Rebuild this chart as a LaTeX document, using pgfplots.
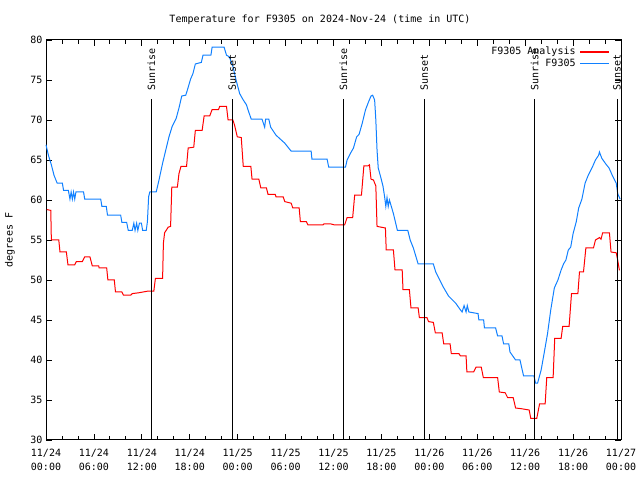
\documentclass[border=0pt]{standalone}
\usepackage{fontspec}
\setmainfont{DejaVu Sans Mono}
\usepackage{pgfplots}
\pgfplotsset{compat=1.18}
\definecolor{obsblue}{RGB}{16,128,255}
\newcommand\gfont{\fontsize{10bp}{13bp}\selectfont}
\begin{document}
\begin{tikzpicture}[x=1bp,y=1bp]
\useasboundingbox (0,0) rectangle (640,480);
\node[font=\gfont] at (320,460) {Temperature for F9305 on 2024-Nov-24 (time in UTC)};
\node[font=\gfont, rotate=90] at (10,240) {degrees F};
\begin{axis}[
    at={(46bp,40bp)}, anchor=south west,
    width=575bp, height=400bp, scale only axis,
    xmin=0, xmax=72, ymin=30, ymax=80,
    xtick={0,6,...,72}, minor x tick num=2,
    ytick={30,35,...,80},
    xticklabels={11/24\\00:00,11/24\\06:00,11/24\\12:00,11/24\\18:00,
                 11/25\\00:00,11/25\\06:00,11/25\\12:00,11/25\\18:00,
                 11/26\\00:00,11/26\\06:00,11/26\\12:00,11/26\\18:00,
                 11/27\\00:00},
    xticklabel style={align=center, font=\fontsize{10bp}{14bp}\selectfont, yshift=-6bp},
    yticklabel style={font=\gfont},
    /pgf/number format/assume math mode=true,
    tick align=inside,
    major tick length=6bp, minor tick length=4bp,
    every tick/.style={black, line width=0.8bp},
    axis line style={line width=1bp},
    clip=false,
    legend style={draw=none, fill=none, at={(1,1)}, anchor=north east,
        xshift=-10bp, yshift=-7bp, font=\gfont, inner sep=0pt,
        row sep=2.5bp, nodes={inner sep=0pt}},
]
% F9305 Analysis
\addplot[red, line width=1bp, sharp plot,
  legend image code/.code={%
    \node[anchor=east, inner sep=0pt, font=\gfont, text=black] at (-4bp,0bp) {F9305 Analysis};
    \draw[red, line width=1.5bp] (0bp,0bp) -- (29bp,0bp);}] coordinates {
(0.1,58.8)(0.6,58.7)(0.67,55.0)(1.6,55.0)(1.75,53.5)(2.55,53.5)(2.75,51.9)(3.6,51.9)
(3.8,52.3)(4.55,52.3)(4.85,52.9)(5.5,52.9)(5.8,51.75)(6.6,51.75)(6.65,51.5)(7.6,51.5)
(7.75,50.0)(8.55,50.0)(8.7,48.5)(9.5,48.5)(9.7,48.1)(10.6,48.1)(10.8,48.3)(11.6,48.4)
(12.7,48.6)(13.5,48.6)(13.7,50.2)(14.6,50.2)(14.7,54.6)(14.85,55.9)(15.3,56.6)(15.6,56.7)
(15.75,61.6)(16.45,61.6)(16.65,63.3)(16.9,64.2)(17.6,64.2)(17.8,66.5)(18.5,66.6)(18.7,68.7)
(19.55,68.7)(19.8,70.5)(20.5,70.5)(20.8,71.3)(21.6,71.3)(21.75,71.7)(22.6,71.7)(22.8,70.0)
(23.4,70.0)(23.6,69.4)(23.95,67.9)(24.45,67.8)(24.7,64.2)(25.65,64.2)(25.8,62.6)(26.65,62.6)
(26.9,61.5)(27.6,61.5)(27.8,60.7)(28.7,60.7)(28.8,60.4)(29.7,60.4)(29.9,59.8)(30.7,59.6)
(30.9,59.0)(31.7,59.0)(31.85,57.3)(32.6,57.3)(32.8,56.9)(34.7,56.9)(34.8,57.0)(35.7,57.0)
(36.06,56.9)(37.4,56.9)(37.7,57.8)(38.4,57.8)(38.65,60.6)(39.5,60.6)(39.8,64.25)(40.3,64.25)
(40.5,64.4)(40.7,62.6)(41.0,62.5)(41.3,61.75)(41.45,56.7)(42.5,56.5)(42.6,53.75)(43.5,53.75)
(43.7,51.25)(44.6,51.25)(44.7,48.8)(45.5,48.8)(45.7,46.5)(46.6,46.5)(46.75,45.3)(47.7,45.3)
(47.9,44.8)(48.5,44.7)(48.75,43.4)(49.6,43.4)(49.8,42.0)(50.6,42.0)(50.75,40.8)(51.7,40.8)
(51.9,40.5)(52.6,40.5)(52.7,38.5)(53.55,38.5)(53.84,39.1)(54.5,39.1)(54.76,37.8)(56.55,37.8)
(56.76,36.0)(57.5,35.9)(57.8,35.3)(58.5,35.3)(58.8,34.0)(59.6,33.9)(60.5,33.75)(60.7,32.7)
(61.45,32.7)(61.8,34.5)(62.5,34.5)(62.7,37.8)(63.5,37.8)(63.7,42.7)(64.5,42.7)(64.7,44.2)
(65.5,44.2)(65.8,48.3)(66.6,48.3)(66.8,51.0)(67.3,51.0)(67.6,54.0)(68.55,54.0)(68.8,55.0)
(69.3,55.3)(69.5,55.1)(69.7,55.9)(70.55,55.9)(70.75,53.5)(71.4,53.4)(71.6,52.4)(71.8,51.2)
};
\addlegendentry{}
% F9305
\addplot[obsblue, line width=1bp, sharp plot,
  legend image code/.code={%
    \node[anchor=east, inner sep=0pt, font=\gfont, text=black] at (-4bp,0bp) {F9305};
    \draw[obsblue, line width=1.5bp] (0bp,0bp) -- (29bp,0bp);}] coordinates {
(0,66.9)(0.3,65.6)(0.67,64.4)(1.0,63.1)(1.4,62.1)(2.05,62.1)(2.2,61.2)(2.8,61.2)
(3.0,60.1)(3.15,61.0)(3.3,60.1)(3.45,61.0)(3.6,60.1)(3.75,61.0)(4.7,61.0)(4.85,60.1)
(6.85,60.1)(7.0,59.2)(7.55,59.2)(7.7,58.1)(9.35,58.1)(9.5,57.2)(10.1,57.2)(10.3,56.2)
(10.8,56.2)(11.0,57.1)(11.15,56.2)(11.35,57.1)(11.5,56.2)(11.7,57.1)(11.95,57.1)(12.1,56.2)
(12.55,56.2)(12.7,57.3)(12.85,60.4)(13.0,61.0)(13.8,61.0)(14.15,62.5)(14.6,64.6)(15.0,66.25)
(15.4,67.9)(15.8,69.2)(16.3,70.2)(16.65,71.5)(17.0,73.0)(17.5,73.1)(17.78,74.0)(18.1,75.1)
(18.4,75.8)(18.7,77.0)(19.45,77.2)(19.66,78.1)(20.65,78.1)(20.8,79.1)(22.3,79.1)(22.6,78.1)
(22.95,77.9)(23.4,76.7)(23.8,75.0)(24.25,73.3)(24.7,72.5)(25.1,71.9)(25.3,71.25)(25.7,70.1)
(27.05,70.1)(27.38,69.1)(27.5,70.1)(27.9,70.1)(28.13,69.1)(28.8,68.1)(29.9,67.1)(30.7,66.1)
(33.2,66.1)(33.3,65.1)(35.2,65.1)(35.4,64.1)(37.5,64.1)(37.7,65.0)(38.1,65.8)(38.5,66.5)
(38.9,67.9)(39.2,68.2)(39.6,69.6)(40.0,71.25)(40.4,72.3)(40.7,73.0)(40.9,73.1)(41.15,72.5)
(41.3,70.0)(41.45,66.25)(41.6,64.0)(41.9,62.9)(42.2,61.7)(42.4,60.4)(42.55,59.2)(42.7,60.3)
(42.85,59.2)(43.0,60.0)(43.15,59.5)(43.5,58.3)(44.0,56.2)(45.3,56.2)(45.6,55.0)(46.0,54.0)
(46.6,52.0)(48.5,52.0)(48.8,51.0)(49.2,50.2)(49.7,49.2)(50.4,48.0)(51.3,47.1)(51.9,46.25)
(52.1,46.0)(52.35,46.8)(52.6,46.0)(52.75,46.8)(52.95,46.0)(54.1,45.8)(54.2,45.0)(54.8,45.0)
(54.9,44.0)(56.3,44.0)(56.55,43.0)(57.1,43.0)(57.3,42.0)(57.95,42.0)(58.1,41.0)(58.8,40.0)
(59.35,40.0)(59.8,38.0)(61.1,38.0)(61.3,37.1)(61.55,37.1)(62.0,38.75)(62.4,41.0)(62.8,43.3)
(63.2,46.25)(63.65,49.0)(64.1,50.0)(64.5,51.25)(64.8,52.0)(65.1,52.5)(65.4,53.75)(65.7,54.1)
(66.0,55.8)(66.4,57.3)(66.7,59.0)(67.1,60.1)(67.5,62.1)(67.9,63.1)(68.45,64.2)(68.8,65.0)
(69.2,65.6)(69.3,66.0)(69.6,65.2)(70.1,64.5)(70.5,64.0)(70.9,63.1)(71.4,62.1)(71.6,60.75)
(71.9,60.1)
};
\addlegendentry{}
% sunrise / sunset markers
\addplot[black, line width=1bp, forget plot] coordinates {(13.19,30) (13.19,72.6)};
\addplot[black, line width=1bp, forget plot] coordinates {(23.33,30) (23.33,72.6)};
\addplot[black, line width=1bp, forget plot] coordinates {(37.23,30) (37.23,72.6)};
\addplot[black, line width=1bp, forget plot] coordinates {(47.37,30) (47.37,72.6)};
\addplot[black, line width=1bp, forget plot] coordinates {(61.2,30) (61.2,72.6)};
\addplot[black, line width=1bp, forget plot] coordinates {(71.5,30) (71.5,72.6)};
\begin{scope}[every node/.style={rotate=90, anchor=west, inner sep=0pt, font=\gfont, xshift=1bp}]
\node at (axis cs:13.19,73.5) {Sunrise};
\node at (axis cs:23.33,73.5) {Sunset};
\node at (axis cs:37.23,73.5) {Sunrise};
\node at (axis cs:47.37,73.5) {Sunset};
\node at (axis cs:61.2,73.5) {Sunrise};
\node at (axis cs:71.5,73.5) {Sunset};
\end{scope}
\end{axis}
\end{tikzpicture}
\end{document}
